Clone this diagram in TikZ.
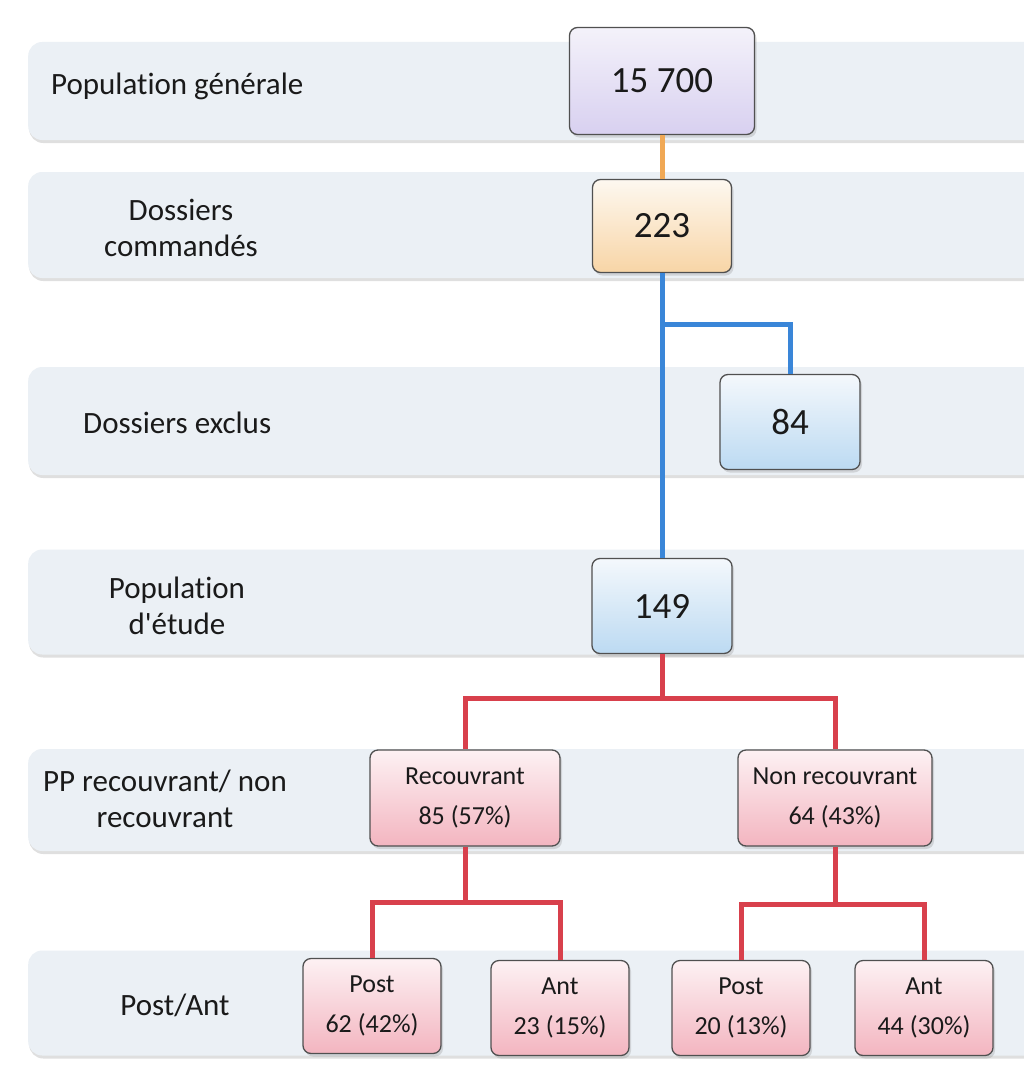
\documentclass[tikz,border=0pt]{standalone}
\usepackage{fontspec}
\setmainfont{Carlito}[Ligatures={TeXOff,CommonOff}]
\usetikzlibrary{shadows}
\definecolor{bandfill}{HTML}{EBF0F5}
\definecolor{boxline}{HTML}{505050}
\definecolor{txt}{HTML}{1A1A1A}
\definecolor{orangeline}{HTML}{F0A855}
\definecolor{blueline}{HTML}{3A86D8}
\definecolor{redline}{HTML}{D8404C}
\definecolor{purpleA}{HTML}{F4F2FA}
\definecolor{purpleB}{HTML}{D8D0F0}
\definecolor{peachA}{HTML}{FDF8F0}
\definecolor{peachB}{HTML}{F8D5A6}
\definecolor{blueA}{HTML}{F4F8FC}
\definecolor{blueB}{HTML}{BCDAF2}
\definecolor{pinkA}{HTML}{FDF1F3}
\definecolor{pinkB}{HTML}{F3B5C0}
\begin{document}
\begin{tikzpicture}[x=1pt,y=-1pt,
  band/.style={fill=bandfill, rounded corners=14pt, minimum width=1060pt, anchor=west, inner sep=0pt,
    drop shadow={opacity=0.25, shadow xshift=1pt, shadow yshift=-3pt}},
  lbl/.style={text=txt, font=\fontsize{31}{36}\selectfont, align=center, inner sep=0pt},
  box/.style={draw=boxline, line width=1.3pt, rounded corners=8pt, text=txt, align=center, inner sep=0pt,
    drop shadow={opacity=0.25, shadow xshift=2pt, shadow yshift=-3pt}},
  big/.style={box, font=\fontsize{37}{40}\selectfont},
  small/.style={box, font=\fontsize{26}{40}\selectfont, top color=pinkA, bottom color=pinkB},
  conn/.style={line width=5pt}
]
\clip (0,0) rectangle (1024,1070);
\useasboundingbox (0,0) rectangle (1024,1070);
\fill[white] (0,0) rectangle (1024,1070);

% bands
\node[band, minimum height=98pt] (band1) at (28,91) {};
\node[band, minimum height=106pt] (band2) at (28,225) {};
\node[band, minimum height=108pt] (band3) at (28,421) {};
\node[band, minimum height=105pt] (band4) at (28,602) {};
\node[band, minimum height=102pt] (band5) at (28,800) {};
\node[band, minimum height=105pt] (band6) at (28,1003) {};

% labels
\node[lbl, anchor=west] (l1) at (51,86) {Population générale};
\node[lbl] (l2) at (181,228) {Dossiers\\commandés};
\node[lbl, anchor=west] (l3) at (83,423) {Dossiers exclus};
\node[lbl] (l4) at (177,606) {Population\\d'étude};
\node[lbl] (l5) at (165,799) {PP recouvrant/ non\\recouvrant};
\node[lbl] (l6) at (175,1005) {Post/Ant};

% boxes
\node[big, top color=purpleA, bottom color=purpleB, minimum width=185pt, minimum height=107pt] (n1) at (662,81) {15 700};
\node[big, top color=peachA, bottom color=peachB, minimum width=139pt, minimum height=93pt] (n2) at (662,226) {223};
\node[big, top color=blueA, bottom color=blueB, minimum width=140pt, minimum height=95pt] (n3) at (790,422) {84};
\node[big, top color=blueA, bottom color=blueB, minimum width=140pt, minimum height=95pt] (n4) at (662,606) {149};
\node[small, minimum width=190pt, minimum height=96pt] (n5) at (465,798) {Recouvrant\\85 (57\%)};
\node[small, minimum width=194pt, minimum height=96pt] (n6) at (835,798) {Non recouvrant\\64 (43\%)};
\node[small, minimum width=138pt, minimum height=95pt] (n7) at (372,1006) {Post\\62 (42\%)};
\node[small, minimum width=138pt, minimum height=95pt] (n8) at (560,1008) {Ant\\23 (15\%)};
\node[small, minimum width=138pt, minimum height=95pt] (n9) at (741,1008) {Post\\20 (13\%)};
\node[small, minimum width=138pt, minimum height=95pt] (n10) at (924,1008) {Ant\\44 (30\%)};

% connector junctions
\coordinate (b1) at (662,324);
\coordinate (r1) at (662,698);
\coordinate (r2) at (465,902);
\coordinate (r3) at (835,904);

% connectors
\draw[conn, orangeline] (n1.south) -- (n2.north);
\draw[conn, blueline] (n2.south) -- (n4.north);
\draw[conn, blueline] (b1) -| (n3.north);
\draw[conn, redline] (n4.south) -- (r1);
\draw[conn, redline] (n5.north) |- (r1) -| (n6.north);
\draw[conn, redline] (n5.south) -- (r2);
\draw[conn, redline] (n7.north) |- (r2) -| (n8.north);
\draw[conn, redline] (n6.south) -- (r3);
\draw[conn, redline] (n9.north) |- (r3) -| (n10.north);
\end{tikzpicture}
\end{document}
